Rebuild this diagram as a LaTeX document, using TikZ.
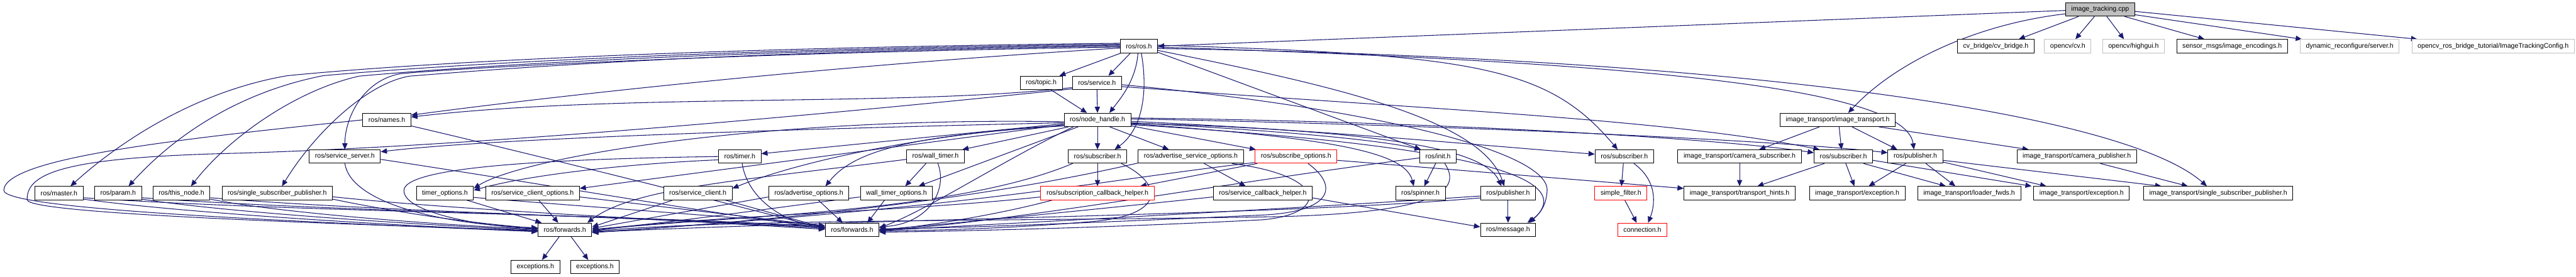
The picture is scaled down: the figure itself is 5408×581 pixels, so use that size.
\documentclass[tikz,border=0pt]{standalone}
\usepackage{fontspec}
\setmainfont{Liberation Sans}
\usetikzlibrary{arrows.meta,calc}
\definecolor{edgec}{HTML}{191970}
\definecolor{greyb}{HTML}{BFBFBF}
\pgfdeclarelayer{bg}
\pgfsetlayers{bg,main}
\begin{document}
\begin{tikzpicture}[x=1pt,y=-1pt,
 box/.style={draw=black,line width=1.3pt,fill=white,minimum height=28pt,inner xsep=12pt,inner ysep=0pt,font=\fontsize{14}{16}\selectfont},
 redbox/.style={box,draw=red},
 greybox/.style={box,draw=greyb},
 srcbox/.style={box,fill=greyb},
 edge/.style={draw=edgec,line width=1.4pt,-{Triangle[length=13pt,width=11pt]}}]
\useasboundingbox (0,0) rectangle (5408,581);
\begin{pgfonlayer}{bg}
\fill[white] (0,0) rectangle (5408,581);
\end{pgfonlayer}
% nodes
\node[srcbox] (cpp) at (4409,20) {image\_tracking.cpp};
\node[box] (ros) at (2391,97) {ros/ros.h};
\node[box] (cvb) at (4190,97) {cv\_bridge/cv\_bridge.h};
\node[greybox] (cvh) at (4341,97) {opencv/cv.h};
\node[greybox] (hg) at (4479,97) {opencv/highgui.h};
\node[box] (enc) at (4686,97) {sensor\_msgs/image\_encodings.h};
\node[greybox] (dyn) at (4933,97) {dynamic\_reconfigure/server.h};
\node[greybox] (cfg) at (5234,97) {opencv\_ros\_bridge\_tutorial/ImageTrackingConfig.h};
\node[box] (topic) at (2186,174) {ros/topic.h};
\node[box] (service) at (2303,174) {ros/service.h};
\node[box] (names) at (812,252) {ros/names.h};
\node[box] (nh) at (2304,252) {ros/node\_handle.h};
\node[box] (it) at (3858,252) {image\_transport/image\_transport.h};
\node[box] (ssrv) at (724,329) {ros/service\_server.h};
\node[box] (timer) at (1553,329) {ros/timer.h};
\node[box] (wt) at (1964,329) {ros/wall\_timer.h};
\node[box] (sub1) at (2304,329) {ros/subscriber.h};
\node[box] (aso) at (2500,329) {ros/advertise\_service\_options.h};
\node[redbox] (so) at (2721,329) {ros/subscribe\_options.h};
\node[box] (init) at (3019,329) {ros/init.h};
\node[box] (sub2) at (3410,329) {ros/subscriber.h};
\node[box] (csub) at (3652,329) {image\_transport/camera\_subscriber.h};
\node[box] (sub3) at (3870,329) {ros/subscriber.h};
\node[box] (pub2) at (4021,329) {ros/publisher.h};
\node[box] (cpub) at (4360,329) {image\_transport/camera\_publisher.h};
\node[box] (master) at (124,406) {ros/master.h};
\node[box] (param) at (248,406) {ros/param.h};
\node[box] (thisnode) at (381,406) {ros/this\_node.h};
\node[box] (ssp) at (582,406) {ros/single\_subscriber\_publisher.h};
\node[box] (topt) at (934,406) {timer\_options.h};
\node[box] (sco) at (1118,406) {ros/service\_client\_options.h};
\node[box] (sc) at (1465,406) {ros/service\_client.h};
\node[box] (ao) at (1698,406) {ros/advertise\_options.h};
\node[box] (wto) at (1882,406) {wall\_timer\_options.h};
\node[redbox] (sch) at (2304,406) {ros/subscription\_callback\_helper.h};
\node[box] (svch) at (2651,406) {ros/service\_callback\_helper.h};
\node[box] (spin) at (2982,406) {ros/spinner.h};
\node[box] (pub1) at (3166,406) {ros/publisher.h};
\node[redbox] (sf) at (3403,406) {simple\_filter.h};
\node[box] (th) at (3652,406) {image\_transport/transport\_hints.h};
\node[box] (ite1) at (3899,406) {image\_transport/exception.h};
\node[box] (lf) at (4134,406) {image\_transport/loader\_fwds.h};
\node[box] (ite2) at (4370,406) {image\_transport/exception.h};
\node[box] (itssp) at (4657,406) {image\_transport/single\_subscriber\_publisher.h};
\node[box] (fw1) at (1186,483) {ros/forwards.h};
\node[box] (fw2) at (1789,483) {ros/forwards.h};
\node[box] (msg) at (3166,483) {ros/message.h};
\node[redbox] (conn) at (3448,483) {connection.h};
\node[box] (exc1) at (1124,561) {exceptions.h};
\node[box] (exc2) at (1249,561) {exceptions.h};
\begin{pgfonlayer}{bg}
% cpp
\draw[edge] ($(cpp.west)+(0,2)$) -- (ros.east);
\draw[edge] ($(cpp.south west)+(4,-6)$) .. controls (4150,50) and (3980,130) .. ($(it.north)+(22,0)$);
\draw[edge] ($(cpp.south west)+(28,0)$) -- ($(cvb.north)+(48,0)$);
\draw[edge] ($(cpp.south)+(-12,0)$) -- ($(cvh.north)+(16,0)$);
\draw[edge] ($(cpp.south)+(14,0)$) -- ($(hg.north)+(-20,0)$);
\draw[edge] ($(cpp.south east)+(-22,0)$) -- ($(enc.north)+(-58,0)$);
\draw[edge] ($(cpp.east)+(0,11)$) -- ($(dyn.north west)+(4,0)$);
\draw[edge] ($(cpp.east)+(0,4)$) -- ($(cfg.north west)+(12,0)$);
% ros
\draw[edge] ($(ros.south west)+(2,0)$) -- ($(topic.north)+(38,0)$);
\draw[edge] ($(ros.south west)+(22,0)$) -- ($(service.north)+(24,0)$);
\draw[edge] ($(ros.south)+(-2,0)$) .. controls (2385,170) and (2350,210) .. ($(nh.north)+(25,0)$);
\draw[edge] ($(ros.south)+(5,0)$) .. controls (2410,190) and (2400,270) .. ($(sub1.north)+(36,0)$);
\draw[edge] ($(ros.west)+(0,4)$) .. controls (1700,140) and (1100,210) .. ($(names.east)+(0,-10)$);
\draw[edge] ($(ros.west)+(0,2)$) .. controls (1600,110) and (1000,140) .. (840,155) .. controls (760,170) and (724,250) .. (ssrv.north);
\draw[edge] ($(ros.west)+(0,-6)$) .. controls (1500,100) and (900,130) .. (604,159) .. controls (420,190) and (260,290) .. ($(master.north)+(24,0)$);
\draw[edge] ($(ros.west)+(0,-4)$) .. controls (1500,103) and (950,135) .. (679,159) .. controls (520,190) and (380,270) .. ($(param.north)+(22,0)$);
\draw[edge] ($(ros.west)+(0,-2)$) .. controls (1500,106) and (1000,138) .. (754,160) .. controls (620,190) and (480,290) .. ($(thisnode.north)+(20,0)$);
\draw[edge] (ros.west) .. controls (1500,108) and (1050,145) .. (860,160) .. controls (770,175) and (660,280) .. ($(ssp.north)+(10,0)$);
\draw[edge] ($(ros.east)+(0,13)$) -- ($(init.north west)+(3,0)$);
\draw[edge] ($(ros.east)+(0,9)$) .. controls (2800,180) and (3110,250) .. ($(pub1.north)+(-8,0)$);
\draw[edge] ($(ros.east)+(0,-2)$) .. controls (3100,115) and (3250,140) .. ($(sub2.north)+(-14,0)$);
\draw[edge] ($(ros.east)+(0,2)$) .. controls (3400,130) and (4000,180) .. ($(pub2.north)+(-3,0)$);
\draw[edge] ($(ros.east)+(0,5)$) .. controls (3600,120) and (4450,230) .. ($(itssp.north)+(-24,0)$);
% service, topic
\draw[edge] (service.south) -- (nh.north);
\draw[edge] ($(service.west)+(0,10)$) .. controls (1900,225) and (1300,195) .. ($(names.east)+(0,-6)$);
\draw[edge] ($(service.south west)+(2,-2)$) .. controls (1500,265) and (900,310) .. (500,322) .. controls (150,330) and (55,360) .. (57,420) .. controls (60,450) and (700,470) .. ($(fw1.west)+(0,2)$);
\draw[edge] ($(service.east)+(0,4)$) .. controls (2900,230) and (3250,320) .. (3248,400) .. controls (3246,440) and (3225,455) .. ($(msg.north east)+(-18,0)$);
\draw[edge] ($(service.east)+(0,8)$) .. controls (3000,230) and (3500,250) .. ($(sub3.north west)+(12,0)$);
\draw[edge] ($(topic.south)+(20,0)$) -- ($(nh.north)+(-22,0)$);
% node_handle
\draw[edge] (nh.south) -- (sub1.north);
\draw[edge] ($(nh.south east)+(-45,0)$) -- ($(aso.north)+(-46,0)$);
\draw[edge] ($(nh.south east)+(0,-2)$) -- ($(so.north west)+(2,0)$);
\draw[edge] ($(nh.south west)+(10,0)$) -- ($(wt.north east)+(-5,0)$);
\draw[edge] ($(nh.south west)+(30,0)$) -- ($(wto.north east)+(-30,0)$);
\draw[edge] ($(nh.east)+(0,6)$) .. controls (2700,275) and (2900,295) .. ($(init.north west)+(3,0)$);
\draw[edge] ($(nh.east)+(0,8)$) .. controls (2800,290) and (2950,320) .. ($(spin.north)+(-14,0)$);
\draw[edge] ($(nh.east)+(0,7)$) .. controls (2950,275) and (3120,320) .. ($(pub1.north)+(-14,0)$);
\draw[edge] ($(nh.east)+(0,3)$) .. controls (2800,275) and (3100,305) .. ($(sub2.west)+(0,-5)$);
\draw[edge] ($(nh.east)+(0,-4)$) .. controls (3000,255) and (3600,290) .. ($(sub3.west)+(0,-8)$);
\draw[edge] ($(nh.east)+(0,-2)$) .. controls (3000,262) and (3700,292) .. ($(pub2.west)+(0,-8)$);
\draw[edge] ($(nh.east)+(0,10)$) .. controls (3000,300) and (3330,360) .. ($(msg.north east)+(-14,0)$);
\draw[edge] ($(nh.west)+(0,6)$) .. controls (1500,275) and (1000,295) .. ($(ssrv.east)+(0,-10)$);
\draw[edge] ($(nh.west)+(0,8)$) -- ($(timer.east)+(0,-6)$);
\draw[edge] ($(nh.west)+(0,10)$) -- ($(sco.east)+(0,-10)$);
\draw[edge] ($(nh.west)+(0,4)$) .. controls (1600,245) and (1100,330) .. ($(topt.east)+(0,-10)$);
\draw[edge] ($(nh.west)+(0,12)$) .. controls (2000,275) and (1700,330) .. ($(sc.east)+(0,-10)$);
\draw[edge] ($(nh.south west)+(0,-2)$) .. controls (1900,285) and (1790,320) .. ($(ao.north)+(35,0)$);
\draw[edge] ($(nh.south west)+(20,0)$) .. controls (2100,340) and (1950,440) .. ($(fw2.east)+(0,-4)$);
% names, service_server
\draw[edge] (names.west) .. controls (400,290) and (10,330) .. (8,400) .. controls (8,440) and (600,465) .. ($(fw1.west)+(0,4)$);
\draw[edge] ($(names.south east)+(0,-2)$) .. controls (1100,320) and (1500,420) .. ($(fw2.west)+(0,-2)$);
\draw[edge] (ssrv.south) .. controls (735,420) and (900,470) .. ($(fw1.west)+(0,-4)$);
\draw[edge] ($(ssrv.east)+(0,6)$) .. controls (1100,380) and (1500,450) .. ($(fw2.west)+(0,-4)$);
% left row
\draw[edge] ($(master.south east)+(0,-2)$) .. controls (400,450) and (900,478) .. ($(fw1.west)+(0,3)$);
\draw[edge] ($(master.south east)+(0,-5)$) .. controls (600,445) and (1300,450) .. ($(fw2.west)+(0,-6)$);
\draw[edge] ($(param.south east)+(0,-2)$) .. controls (500,450) and (950,476) .. ($(fw1.west)+(0,1)$);
\draw[edge] ($(param.south east)+(0,-5)$) .. controls (700,445) and (1300,452) .. ($(fw2.west)+(0,-5)$);
\draw[edge] ($(thisnode.south east)+(0,-2)$) .. controls (600,450) and (950,474) .. ($(fw1.west)+(0,-1)$);
\draw[edge] ($(thisnode.south east)+(0,-5)$) .. controls (800,445) and (1300,454) .. ($(fw2.west)+(0,-3)$);
\draw[edge] ($(ssp.south east)+(0,-2)$) .. controls (850,450) and (1000,470) .. ($(fw1.west)+(0,-3)$);
\draw[edge] ($(ssp.south east)+(0,-7)$) .. controls (950,440) and (1300,456) .. ($(fw2.west)+(0,-1)$);
% options etc.
\draw[edge] ($(topt.south east)+(-15,0)$) -- ($(fw1.north west)+(8,0)$);
\draw[edge] ($(topt.east)+(0,9)$) .. controls (1300,440) and (1600,460) .. ($(fw2.west)+(0,-8)$);
\draw[edge] ($(sco.south)+(13,0)$) -- ($(fw1.north)+(-14,0)$);
\draw[edge] ($(sco.east)+(0,8)$) -- ($(fw2.west)+(0,-8)$);
\draw[edge] ($(sc.south west)+(20,0)$) -- ($(fw1.east)+(0,-6)$);
\draw[edge] ($(sc.south east)+(-15,0)$) -- ($(fw2.west)+(0,-4)$);
\draw[edge] ($(ao.west)+(0,8)$) -- ($(fw1.east)+(0,-3)$);
\draw[edge] ($(ao.south)+(20,0)$) -- ($(fw2.north)+(-20,0)$);
\draw[edge] ($(wto.south)+(-25,0)$) -- ($(fw2.north east)+(-25,0)$);
\draw[edge] ($(wto.west)+(0,8)$) .. controls (1600,440) and (1400,470) .. ($(fw1.east)+(0,-1)$);
\draw[edge] ($(wt.south)+(-20,0)$) -- ($(wto.north east)+(-58,0)$);
\draw[edge] ($(wt.south)+(5,0)$) .. controls (1990,400) and (1950,470) .. ($(fw2.east)+(0,-6)$);
\draw[edge] ($(wt.west)+(0,6)$) .. controls (1550,380) and (1330,395) .. ($(fw1.north east)+(-10,0)$);
\draw[edge] ($(timer.south)+(5,0)$) .. controls (1570,420) and (1650,470) .. ($(fw2.west)+(0,-6)$);
\draw[edge] (timer.west) .. controls (1100,335) and (850,355) .. (848,400) .. controls (846,445) and (1000,475) .. ($(fw1.west)+(0,-2)$);
\draw[edge] ($(timer.west)+(0,7)$) .. controls (1300,345) and (1100,370) .. ($(topt.east)+(0,-6)$);
% subscriber 1, helpers
\draw[edge] (sub1.south) -- (sch.north);
\draw[edge] ($(sub1.south west)+(10,0)$) .. controls (2000,450) and (1500,455) .. ($(fw1.east)+(0,1)$);
\draw[edge] ($(sub1.south east)+(-12,0)$) .. controls (2440,385) and (2450,450) .. (2300,465) .. controls (2100,482) and (1950,484) .. ($(fw2.east)+(0,3)$);
\draw[edge] ($(sch.south west)+(25,0)$) .. controls (2100,450) and (1950,475) .. ($(fw2.east)+(0,1)$);
\draw[edge] ($(sch.west)+(0,8)$) .. controls (1900,445) and (1450,455) .. ($(fw1.east)+(0,3)$);
\draw[edge] ($(aso.south)+(28,0)$) -- ($(svch.north)+(-36,0)$);
\draw[edge] ($(aso.south west)+(0,-1)$) .. controls (2100,410) and (1700,460) .. ($(fw1.east)+(0,5)$);
\draw[edge] ($(aso.south east)+(-25,0)$) .. controls (2790,370) and (2790,450) .. (2650,462) .. controls (2300,480) and (2000,486) .. ($(fw2.east)+(0,5)$);
\draw[edge] ($(so.south west)+(5,0)$) -- ($(sch.north east)+(-30,0)$);
\draw[edge] ($(so.east)+(0,8)$) -- ($(th.west)+(0,-10)$);
\draw[edge] ($(so.south)+(25,0)$) .. controls (2810,390) and (2800,445) .. (2650,452) .. controls (2300,468) and (2000,480) .. ($(fw2.east)+(0,-2)$);
\draw[edge] ($(so.south west)+(0,-2)$) .. controls (2300,380) and (2100,430) .. ($(fw1.east)+(0,6)$);
\draw[edge] ($(svch.east)+(0,10)$) -- ($(msg.west)+(0,-6)$);
\draw[edge] ($(svch.west)+(0,8)$) .. controls (2300,440) and (2000,470) .. (fw2.east);
% init, publisher
\draw[edge] ($(init.south)+(-5,0)$) -- ($(spin.north)+(8,0)$);
\draw[edge] ($(init.west)+(0,3)$) .. controls (2600,380) and (2100,470) .. ($(fw2.east)+(0,1)$);
\draw[edge] ($(init.south east)+(-25,0)$) .. controls (3070,400) and (3020,445) .. (2700,455) .. controls (2200,465) and (1500,460) .. ($(fw1.east)+(0,4)$);
\draw[edge] (pub1.south) -- (msg.north);
\draw[edge] ($(pub1.west)+(0,6)$) .. controls (2700,440) and (2100,470) .. ($(fw2.east)+(0,2)$);
\draw[edge] ($(pub1.west)+(0,10)$) .. controls (2700,452) and (1900,458) .. ($(fw1.east)+(0,5)$);
% message filters
\draw[edge] ($(sub2.south)+(-2,0)$) -- ($(sf.north)+(1,0)$);
\draw[edge] ($(sub2.south)+(20,0)$) .. controls (3480,380) and (3475,430) .. ($(conn.north)+(12,0)$);
\draw[edge] ($(sf.south)+(8,0)$) -- ($(conn.north)+(-12,0)$);
% image_transport
\draw[edge] ($(it.south)+(-38,0)$) -- ($(csub.north)+(41,0)$);
\draw[edge] ($(it.south)+(3,0)$) -- ($(sub3.north)+(-4,0)$);
\draw[edge] ($(it.south)+(30,0)$) -- ($(pub2.north)+(-38,0)$);
\draw[edge] ($(it.south east)+(-35,0)$) -- ($(cpub.north)+(-101,0)$);
\draw[edge] (csub.south) -- (th.north);
\draw[edge] ($(sub3.south west)+(22,0)$) -- ($(th.north east)+(-80,0)$);
\draw[edge] ($(sub3.south)+(5,0)$) -- ($(ite1.north)+(-6,0)$);
\draw[edge] ($(sub3.south east)+(-20,0)$) -- ($(lf.north)+(-49,0)$);
\draw[edge] ($(sub3.east)+(0,8)$) -- ($(ite2.north west)+(-4,0)$);
\draw[edge] ($(pub2.south)+(-20,0)$) -- ($(ite1.north east)+(-77,0)$);
\draw[edge] ($(pub2.south)+(22,0)$) -- ($(lf.north)+(-29,0)$);
\draw[edge] ($(pub2.south east)+(0,-3)$) -- ($(ite2.north)+(-74,0)$);
\draw[edge] ($(pub2.east)+(0,8)$) -- ($(itssp.north west)+(38,0)$);
\draw[edge] ($(cpub.south east)+(-77,0)$) -- ($(itssp.north)+(-64,0)$);
% forwards
\draw[edge] ($(fw1.south)+(-12,0)$) -- ($(exc1.north)+(14,0)$);
\draw[edge] ($(fw1.south)+(13,0)$) -- ($(exc2.north)+(-14,0)$);
\end{pgfonlayer}
\end{tikzpicture}
\end{document}
